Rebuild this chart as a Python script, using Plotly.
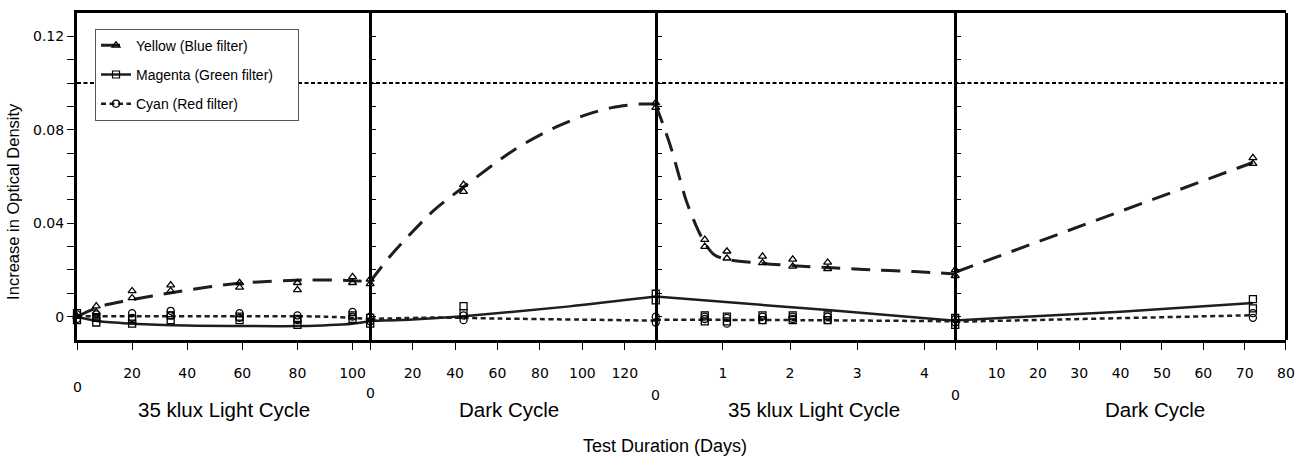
import plotly.graph_objects as go

# ---------------- data ----------------
PANEL_TITLES = ["35 klux Light Cycle", "Dark Cycle", "35 klux Light Cycle", "Dark Cycle"]
PANEL_RANGES = [106.4, 134.6, 4.46, 80]
PANEL_TICKS = [
    [0, 20, 40, 60, 80, 100],
    [0, 20, 40, 60, 80, 100, 120],
    [0, 1, 2, 3, 4],
    [0, 10, 20, 30, 40, 50, 60, 70, 80],
]
Y_TICKS = [0.0, 0.01, 0.02, 0.03, 0.04, 0.05, 0.06, 0.07, 0.08, 0.09, 0.10, 0.11, 0.12]
Y_LABELED = {0.0: "0", 0.04: "0.04", 0.08: "0.08", 0.12: "0.12"}
THRESHOLD = 0.10

SERIES = ["Yellow (Blue filter)", "Magenta (Green filter)", "Cyan (Red filter)"]

# measured points (two replicate readings per time)
P1_T = [0, 7, 20, 34, 59, 80, 100]
P1_YELLOW = [[0.0, 0.0], [0.002, 0.0045], [0.008, 0.011], [0.011, 0.0135], [0.0125, 0.0145], [0.0115, 0.0145], [0.0145, 0.017]]
P1_MAGENTA = [[-0.0015, 0.0015], [-0.0025, -0.0005], [-0.003, -0.001], [-0.0015, 0.0005], [-0.0015, 0.0], [-0.0035, -0.001], [-0.001, 0.0005]]
P1_CYAN = [[-0.001, 0.001], [-0.0005, 0.001], [-0.0005, 0.0015], [0.0005, 0.0025], [-0.0005, 0.0015], [-0.0015, 0.0005], [0.0, 0.002]]

P2_T = [0, 44]
P2_YELLOW = [[0.014, 0.016], [0.0535, 0.0565]]
P2_MAGENTA = [[-0.003, -0.0005], [0.0015, 0.0045]]
P2_CYAN = [[-0.002, 0.0], [-0.0015, 0.0005]]

P3_T = [0, 0.73, 1.06, 1.59, 2.04, 2.56]
P3_YELLOW = [[0.0895, 0.0915], [0.030, 0.033], [0.025, 0.028], [0.023, 0.0258], [0.0215, 0.0245], [0.0205, 0.0232]]
P3_MAGENTA = [[0.007, 0.0098], [-0.002, 0.0005], [-0.002, 0.0], [-0.0015, 0.0005], [-0.0015, 0.0005], [-0.0015, 0.0005]]
P3_CYAN = [[-0.0025, 0.0], [-0.001, 0.0], [-0.003, -0.0005], [-0.0015, 0.0], [-0.001, 0.0], [-0.0015, 0.0]]

P4_T = [0, 72]
P4_YELLOW = [[0.0175, 0.020], [0.0655, 0.068]]
P4_MAGENTA = [[-0.0035, -0.0005], [0.0035, 0.0075]]
P4_CYAN = [[-0.0025, -0.001], [-0.0005, 0.0015]]

# fitted curves
P1_YELLOW_FIT_T = [0, 8, 16, 37, 59, 84, 98, 106.4]
P1_YELLOW_FIT = [0.0, 0.0042, 0.0064, 0.0108, 0.0143, 0.0157, 0.0155, 0.015]
P1_MAGENTA_FIT_T = [0, 8, 20, 40, 60, 80, 100, 106.4]
P1_MAGENTA_FIT = [0.0, -0.002, -0.003, -0.0038, -0.004, -0.004, -0.003, -0.002]
P1_CYAN_FIT_T = [0, 50, 90, 106.4]
P1_CYAN_FIT = [0.0002, 0.0002, 0.0, -0.001]

P2_YELLOW_FIT_T = [0, 10, 30, 44, 68, 86, 102, 114, 127, 134.6]
P2_YELLOW_FIT = [0.015, 0.0265, 0.0455, 0.0555, 0.0715, 0.0805, 0.0865, 0.0895, 0.091, 0.091]
P2_MAGENTA_FIT_T = [0, 20, 44, 94, 134.6]
P2_MAGENTA_FIT = [-0.0018, -0.0012, 0.0002, 0.0044, 0.0086]
P2_CYAN_FIT_T = [0, 30, 60, 134.6]
P2_CYAN_FIT = [-0.001, -0.0004, -0.0008, -0.0017]

P3_YELLOW_FIT_T = [0, 0.1, 0.23, 0.32, 0.45, 0.6, 0.73, 0.87, 1.06, 1.59, 2.04, 2.56, 3.1, 3.85, 4.46]
P3_YELLOW_FIT = [0.0905, 0.083, 0.072, 0.063, 0.050, 0.039, 0.0315, 0.0265, 0.0245, 0.0228, 0.0218, 0.021, 0.0202, 0.0193, 0.0183]
P3_MAGENTA_FIT_T = [0, 2.56, 4.46]
P3_MAGENTA_FIT = [0.0086, 0.0028, -0.0018]
P3_CYAN_FIT_T = [0, 2.2, 4.46]
P3_CYAN_FIT = [-0.0013, -0.0015, -0.002]

P4_YELLOW_FIT_T = [0, 72]
P4_YELLOW_FIT = [0.019, 0.066]
P4_MAGENTA_FIT_T = [0, 40, 72]
P4_MAGENTA_FIT = [-0.0016, 0.0021, 0.0058]
P4_CYAN_FIT_T = [0, 72]
P4_CYAN_FIT = [-0.0022, 0.0006]

# ---------------- styling ----------------
INK = "#1e1e1e"
NUM_FONT = "DejaVu Sans"
TXT_FONT = "Liberation Sans"
SYMBOLS = ["triangle-up-open", "square-open", "circle-open"]
DASHES = ["19px,11px", "solid", "5px,3.5px"]
WIDTHS = [3, 2.5, 2.5]
DOMAINS = [0.0, 0.2425, 0.4787, 0.7264, 1.0]
Y_RANGE = [-0.01, 0.13]

panels = [
    (P1_T, [P1_YELLOW, P1_MAGENTA, P1_CYAN],
     [(P1_YELLOW_FIT_T, P1_YELLOW_FIT), (P1_MAGENTA_FIT_T, P1_MAGENTA_FIT), (P1_CYAN_FIT_T, P1_CYAN_FIT)]),
    (P2_T, [P2_YELLOW, P2_MAGENTA, P2_CYAN],
     [(P2_YELLOW_FIT_T, P2_YELLOW_FIT), (P2_MAGENTA_FIT_T, P2_MAGENTA_FIT), (P2_CYAN_FIT_T, P2_CYAN_FIT)]),
    (P3_T, [P3_YELLOW, P3_MAGENTA, P3_CYAN],
     [(P3_YELLOW_FIT_T, P3_YELLOW_FIT), (P3_MAGENTA_FIT_T, P3_MAGENTA_FIT), (P3_CYAN_FIT_T, P3_CYAN_FIT)]),
    (P4_T, [P4_YELLOW, P4_MAGENTA, P4_CYAN],
     [(P4_YELLOW_FIT_T, P4_YELLOW_FIT), (P4_MAGENTA_FIT_T, P4_MAGENTA_FIT), (P4_CYAN_FIT_T, P4_CYAN_FIT)]),
]

fig = go.Figure()

for k, (times, reps, fits) in enumerate(panels):
    xa = "x" if k == 0 else f"x{k + 1}"
    for s in range(3):
        ft, fv = fits[s]
        fig.add_trace(go.Scatter(
            x=ft, y=fv, xaxis=xa, yaxis="y", mode="lines",
            line=dict(color=INK, width=WIDTHS[s], dash=DASHES[s], shape="spline", smoothing=0.8),
            showlegend=False, hoverinfo="skip"))
    for s in range(3):
        xs, ys = [], []
        for t, vals in zip(times, reps[s]):
            for v in vals:
                xs.append(t)
                ys.append(v)
        fig.add_trace(go.Scatter(
            x=xs, y=ys, xaxis=xa, yaxis="y", mode="markers", cliponaxis=False,
            marker=dict(symbol=SYMBOLS[s], size=7, color="black", line=dict(width=1.3, color="black")),
            showlegend=False))

# empty traces so that the divider / border axes get rendered
for k in range(2, 6):
    fig.add_trace(go.Scatter(x=[None], y=[None], xaxis="x", yaxis=f"y{k}", mode="markers",
                             showlegend=False, hoverinfo="skip"))

# legend entries
NBSP = "\u00a0"
for s in range(3):
    fig.add_trace(go.Scatter(
        x=[None], y=[None], mode="lines+markers", name=SERIES[s] + NBSP * 5, legendgroup=f"g{s}",
        line=dict(color=INK, width=WIDTHS[s], dash=DASHES[s]),
        marker=dict(symbol=SYMBOLS[s], size=7, color="black", line=dict(width=1.2, color="black"))))

layout = dict(
    width=1305, height=459,
    margin=dict(l=77, r=17, t=10, b=119),
    paper_bgcolor="white", plot_bgcolor="white",
    showlegend=True,
    legend=dict(x=0.0149, y=0.952, xanchor="left", yanchor="top",
                bgcolor="white", bordercolor="#555", borderwidth=1,
                font=dict(family=TXT_FONT, size=14, color="black"),
                traceorder="grouped", tracegroupgap=8, itemwidth=30),
    yaxis=dict(range=Y_RANGE, domain=[0, 1], anchor="x",
               tickvals=Y_TICKS, ticktext=[Y_LABELED.get(round(v, 2), "") for v in Y_TICKS],
               ticks="outside", ticklen=7, tickwidth=1.3, tickcolor="black",
               showline=True, linewidth=3, linecolor="black",
               showgrid=False, zeroline=False,
               tickfont=dict(family=NUM_FONT, size=14, color="black")),
)

for k in range(4):
    name = "xaxis" if k == 0 else f"xaxis{k + 1}"
    ticks = PANEL_TICKS[k]
    layout[name] = dict(
        domain=[DOMAINS[k], DOMAINS[k + 1]], range=[0, PANEL_RANGES[k]], anchor="y",
        tickvals=ticks, ticktext=["" if t == 0 else str(t) for t in ticks],
        ticks="outside", ticklen=7, tickwidth=1.3, tickcolor="black",
        showline=True, linewidth=3, linecolor="black", mirror=True,
        showgrid=False, zeroline=False, ticklabelstandoff=11,
        tickfont=dict(family=NUM_FONT, size=14, color="black"))

# panel dividers with small inner ticks
for k in range(1, 4):
    layout[f"yaxis{k + 1}"] = dict(
        range=Y_RANGE, overlaying="y", anchor="free", position=DOMAINS[k], side="left",
        tickvals=Y_TICKS, showticklabels=False, ticks="inside", ticklen=4, tickwidth=1,
        tickcolor="black", showline=True, linewidth=3, linecolor="black",
        showgrid=False, zeroline=False)
layout["yaxis5"] = dict(range=Y_RANGE, overlaying="y", anchor="free", position=1.0, side="right",
                        showticklabels=False, ticks="", showline=True, linewidth=3,
                        linecolor="black", showgrid=False, zeroline=False)

fig.update_layout(**layout)

# threshold reference line
fig.add_shape(type="line", xref="paper", x0=0, x1=1, yref="y", y0=THRESHOLD, y1=THRESHOLD,
              line=dict(color="black", width=2, dash="4px,2.5px"), layer="below")

annotations = []
zero_shift = [-47, -53, -55, -55]
for k in range(4):
    xr = "x" if k == 0 else f"x{k + 1}"
    annotations.append(dict(x=0, xref=xr, y=0, yref="paper", yshift=zero_shift[k], text="0",
                            showarrow=False, xanchor="center", yanchor="middle",
                            font=dict(family=NUM_FONT, size=14, color="black")))
title_x = [0.1214, 0.3575, 0.6100, 0.8918]
for k in range(4):
    annotations.append(dict(x=title_x[k], xref="paper", y=-0.214, yref="paper", text=PANEL_TITLES[k],
                            showarrow=False, xanchor="center", yanchor="middle",
                            font=dict(family=TXT_FONT, size=20.5, color="black")))
annotations.append(dict(x=0.4864, xref="paper", y=-0.325, yref="paper", text="Test Duration (Days)",
                        showarrow=False, xanchor="center", yanchor="middle",
                        font=dict(family=TXT_FONT, size=18, color="black")))
annotations.append(dict(x=-0.0525, xref="paper", y=0.424, yref="paper", text="Increase in Optical Density",
                        showarrow=False, textangle=-90, xanchor="center", yanchor="middle",
                        font=dict(family=TXT_FONT, size=16.5, color="black")))
fig.update_layout(annotations=annotations)

fig.write_html("out.html")
